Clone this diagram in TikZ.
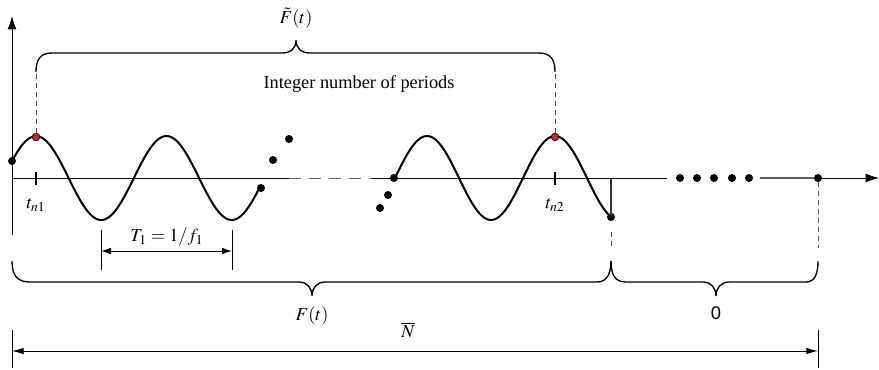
\documentclass[tikz,border=0pt]{standalone}
\usepackage{mathptmx}
\usepackage{fontspec}
\setmainfont{Liberation Serif}
\newfontfamily\labelsans{Liberation Sans}
\usetikzlibrary{arrows.meta, positioning, calc}
\definecolor{peakred}{RGB}{198, 40, 46}
\definecolor{axisgray}{RGB}{95, 95, 95}
\definecolor{guidegray}{RGB}{80, 80, 80}
\tikzset{
  axx/.style      = {-{Latex[length=8pt, width=5.4pt]}, line width=0.6pt, black},
  wave/.style     = {line width=1.2pt, black},
  bracepath/.style= {line width=0.8pt, black},
  guide/.style    = {dash pattern=on 3pt off 2.4pt, line width=0.5pt, guidegray},
  dot/.style      = {circle, fill=black, inner sep=0pt, minimum size=4.8pt},
  peakdot/.style  = {circle, fill=peakred, draw=black, line width=0.4pt, inner sep=0pt, minimum size=4.6pt},
  tickmark/.style = {line width=0.8pt, black},
  dimline/.style  = {{Latex[length=6pt, width=4pt]}-{Latex[length=6pt, width=4pt]}, line width=0.6pt},
}

\begin{document}
\begin{tikzpicture}[x=0.6pt, y=-0.6pt, font=\fontsize{11}{13}\selectfont]
\useasboundingbox (0,0) rectangle (879,369);

% ===== 坐标轴 =====
\draw[axx] (12,235) -- (12,16);
\draw[line width=0.6pt] (12,178) -- (289,178);
\draw[line width=0.6pt, axisgray, dash pattern=on 7pt off 5pt] (289,178) -- (372,178);
\draw[line width=0.6pt] (372,178) -- (667,178);
\draw[line width=1.2pt, axisgray] (760,178) -- (818,178);
\draw[axx] (818,178) -- (879,178);

% ===== 正弦段 =====
\draw[wave] plot[domain=12:260, samples=120, smooth] (\x, {178-42*cos(2.7586*(\x-36))});
\draw[wave] plot[domain=394:611, samples=100, smooth] (\x, {178-42*cos(2.8125*(\x-427))});
\node[dot] (w1s) at (12,{178-42*cos(2.7586*(12-36))}) {};
\node[dot] (w1e) at (261,188) {};
\node[dot] (w2s) at (394,178) {};
\node[dot] (w2e) at (611,217) {};
\coordinate (cut) at (611,178);
\draw[line width=0.8pt, black!80] (w2e.center) -- (cut);

% 省略的点
\node[dot] (g1) at (273,160) {};
\node[dot] (g2) at (289,139) {};
\node[dot] (g3) at (380,208) {};
\node[dot] (g4) at (388,195) {};
\foreach \px [count=\i] in {680,697,714,732,749}
  \node[dot] (z\i) at (\px,178) {};
\node[dot] (nend) at (818,178) {};

% ===== 采样点 t_n1, t_n2 =====
\draw[tickmark] (36,172) -- (36,185);
\draw[tickmark] (555,172) -- (555,185);
\node (tn1) at (36,205) {$t_{n1}$};
\node (tn2) at (555,205) {$t_{n2}$};
\node[peakdot] (p1) at (36,137) {};
\node[peakdot] (p2) at (555,137) {};
\coordinate (p1top) at (36,72);
\coordinate (p2top) at (555,72);
\draw[guide] (p1.north) -- (p1top);
\draw[guide] (p2.north) -- (p2top);

% 上方括号
\draw[bracepath] (p1top) .. controls (36,60) and (40,53) .. (52,53) -- (282,53)
  .. controls (291,53) and (296,48) .. (296,40) .. controls (296,48) and (301,53) .. (310,53)
  -- (539,53) .. controls (551,53) and (555,60) .. (p2top);
\node (ftilde) at (296,18) {$\tilde{F}(t)$};
\node (periods) at (359,84) {Integer number of periods};

% ===== 周期 T_1 =====
\coordinate (ta) at (101,251);
\coordinate (tb) at (232,251);
\draw[tickmark, line width=0.6pt] (101,230) -- (101,270);
\draw[tickmark, line width=0.6pt] (232,230) -- (232,270);
\draw[dimline] (ta) -- (tb);
\node (tlabel) at (167,237) {$T_1 = 1/f_1$};

% ===== 下方括号 =====
\draw[guide] (611,232) -- (611,247);
\draw[guide] (nend.south) -- (818,248);
\draw[bracepath] (12,261) .. controls (12,275) and (17,282) .. (30,282) -- (299,282)
  .. controls (307,282) and (312,288) .. (312,296) .. controls (312,288) and (317,282) .. (325,282)
  -- (597,282) .. controls (606,282) and (611,275) .. (611,261);
\draw[bracepath] (611,261) .. controls (611,275) and (615,282) .. (626,282) -- (703,282)
  .. controls (711,282) and (716,288) .. (716,296) .. controls (716,288) and (721,282) .. (729,282)
  -- (806,282) .. controls (814,282) and (818,275) .. (818,261);
\node (fdata) at (312,316) {$F(t)$};
\node[font=\fontsize{11}{13}\labelsans] (zeros) at (716,313) {0};

% ===== 总长度 N =====
\coordinate (na) at (12,351);
\coordinate (nb) at (818,351);
\draw[line width=0.6pt] (12,330) -- (12,368);
\draw[line width=0.6pt] (818,330) -- (818,368);
\draw[dimline, {Latex[length=7pt, width=4pt]}-{Latex[length=7pt, width=4pt]}] (na) -- (nb);
\node (nlen) at (408,330) {$\overline{N}$};

\end{tikzpicture}
\end{document}
